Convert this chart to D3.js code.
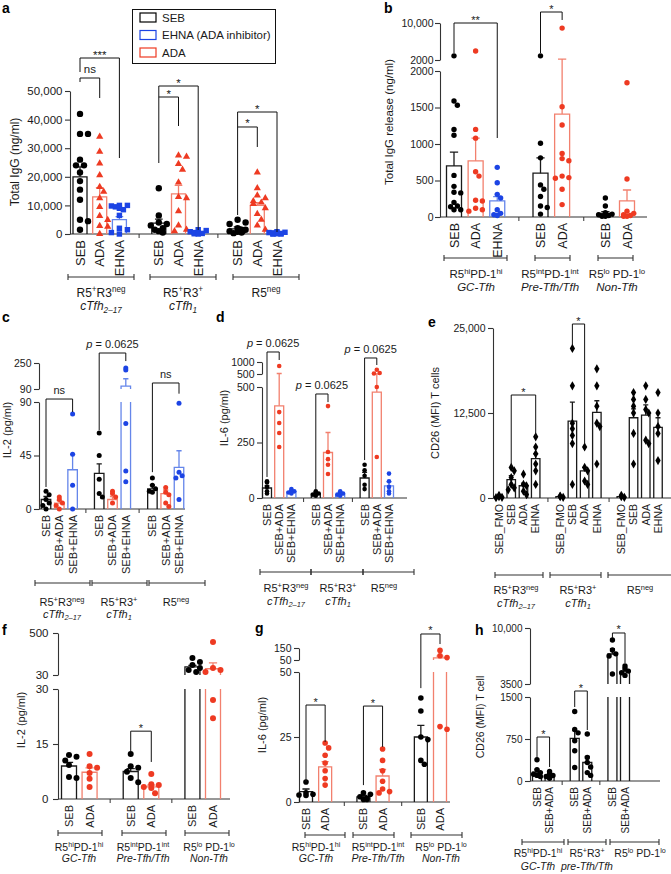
<!DOCTYPE html>
<html><head><meta charset="utf-8">
<script src="https://cdn.jsdelivr.net/npm/d3@7"></script>
<style>body{margin:0;background:#fff}svg{display:block}</style>
</head><body>
<script>
// ---------------- DATA ----------------
// Panel a
const aConds = [["SEB","ADA","EHNA"],["SEB","ADA","EHNA"],["SEB","ADA","EHNA"]];
const aGroups = [["R5^{+}R3^{neg}","cTfh_{2–17}"],["R5^{+}R3^{+}","cTfh_{1}"],["R5^{neg}",""]];
const aMeans = [[20000,13000,5000],[3800,14000,500],[1800,10000,300]];
const aSEM = [[3500,3200,1100],[1400,3000,250],[700,1000,80]];
const aPoints = [
  [[42000,35000,35000,26000,24000,24000,21500,18500,15500,12000,5000,4500,1500],
   [34000,28800,24700,20600,16500,14800,12500,9500,6300,4900,2800,2600,0],
   [10000,10000,9800,9500,9000,8500,6500,2000,1500,500,0]],
  [[16000,6500,4000,3500,3000,2000,1500,1000,500],
   [27500,27000,24500,22500,18000,13000,12500,8000,3000,1500,1000],
   [1500,1200,800,500,300,200,100,0]],
  [[5000,4000,3500,2000,1500,1500,1000,800,500,300],
   [21500,16000,13500,12500,11500,11000,10500,9000,7000,5000,3000,1500],
   [800,600,500,400,300,200,100,100,0,0]]
];
const aTicks = [0,10000,20000,30000,40000,50000];
const aTickLabels = ["0","10,000","20,000","30,000","40,000","50,000"];
const aBrackets = [[0,0,2,61538,56643,26573,"***"],[0,0,1,54545,53146,47552,"ns"],
  [1,0,2,51748,47902,1399,"*"],[1,0,1,47902,24825,37762,"*"],
  [2,0,2,42657,37413,699,"*"],[2,0,1,37413,6643,30420,"*"]];
const legendLabels = ["SEB","EHNA (ADA inhibitor)","ADA"];

// Panel b
const bConds = [["SEB","ADA","EHNA"],["SEB","ADA"],["SEB","ADA"]];
const bGroups = [["R5^{hi}PD-1^{hi}","GC-Tfh"],["R5^{int}PD-1^{int}","Pre-Tfh/Tfh"],["R5^{lo} PD-1^{lo}","Non-Tfh"]];
const bMeans = [[700,770,220],[600,1410],[50,220]];
const bSEM = [[190,310,60],[210,800],[25,150]];
const bPoints = [
  [[2900,1590,1530,1200,1120,570,420,340,330,200,150,140,100,100],
   [3950,1200,1080,620,560,230,220,120,100,80],
   [680,470,310,260,100,50,30,20]],
  [[2900,1010,810,440,380,280,150,130,40],
   [8900,1510,1260,870,800,770,560,540,530,380,170]],
  [[260,150,60,40,30,20,10,10],
   [1840,520,80,50,30,20,10,10]]
];
const bTicksLow = [0,500,1000,1500,2000], bTickLabelsLow = ["0","500","1000","1500","2000"];
const bTicksHigh = [2000,10000], bTickLabelsHigh = ["2000","10,000"];
const bBrackets = [[0,0,2,10000,3513,1082,"**"],[1,0,1,12378,3513,10649,"*"]];

// Panel c
const cConds = [["SEB","SEB+ADA","SEB+EHNA"],["SEB","SEB+ADA","SEB+EHNA"],["SEB","SEB+ADA","SEB+EHNA"]];
const cGroups = [["R5^{+}R3^{neg}","cTfh_{2–17}"],["R5^{+}R3^{+}","cTfh_{1}"],["R5^{neg}",""]];
const cMeans = [[8,5,33],[30,8,108],[17,13,35]];
const cSEM = [[2.5,2,13],[8,2.5,45],[3,3,14]];
const cPoints = [
  [[15,12,8,5,3,0],[10,8,5,3,0],[80,46,20,0]],
  [[64,45,25,13,10],[15,13,10,5],[219,207,72,32,23]],
  [[26,20,17,15,14],[18,14,12,5,2],[89,31,28,26,8]]
];
const cTicksLow = [0,45,90], cTickLabelsLow = ["0","45","90"];
const cTicksHigh = [90,250], cTickLabelsHigh = ["90","250"];
const cBrackets = [[0,0,2,[92.5,0],18.5,81.6,"ns"],[1,0,2,311.5,66.4,262,"p = 0.0625"],[2,0,2,127,31,[97,0],"ns"]];

// Panel d
const dConds = cConds;
const dGroups = cGroups;
const dMeans = [[45,415,28],[18,205,15],[90,477,55]];
const dSEM = [[10,105,4],[3,90,3],[25,28,18]];
const dPoints = [
  [[75,70,50,30,20],[833,387,338,293,230],[40,35,30,25,20]],
  [[30,25,20,15,10],[414,207,175,150,108],[30,25,20,15,10]],
  [[150,125,100,60,40],[680,540,520,500,185],[110,75,50,30,20]]
];
const dTicksLow = [0,250,500], dTickLabelsLow = ["0","250","500"];
const dTicksHigh = [500,1000], dTickLabelsHigh = ["500","1000"];
const dBrackets = [[0,0,1,1417,94.6,1083,"p = 0.0625"],[1,0,1,468.5,36,432,"p = 0.0625"],[2,0,1,1167,171,875,"p = 0.0625"]];

// Panel e
const eConds = [["SEB_FMO","SEB","ADA","EHNA"],["SEB_FMO","SEB","ADA","EHNA"],["SEB_FMO","SEB","ADA","EHNA"]];
const eGroups = cGroups;
const eMeans = [[200,2700,1800,5800],[200,11300,4000,12600],[200,11800,12200,10400]];
const eSEM = [[80,600,400,700],[50,2800,500,1700],[50,1300,1500,1400]];
const ePoints = [
  [[400,200,100,50],[4500,4000,3000,2000,1500,1200],[3500,2000,1800,1000,500],[9000,7500,6500,5000,4000,2000]],
  [[300,200,100],[22000,16500,11000,10200,9200,8000,2000],[7500,4500,4000,2500,2000],[19000,16500,13500,11000,10500,5000]],
  [[400,200,100],[15500,14500,13500,12500,9500,5000],[16500,14500,13000,12500,8500,8000],[15500,12500,10500,9500,5500]]
];
const eTicks = [0,12500,25000], eTickLabels = ["0","12,500","25,000"];
const eBrackets = [[0,1,3,15147,4559,8971,"*"],[1,1,2,25588,22500,7941,"*"]];

// Panel f
const fConds = [["SEB","ADA"],["SEB","ADA"],["SEB","ADA"]];
const fGroups = [["R5^{hi}PD-1^{hi}","GC-Tfh"],["R5^{int}PD-1^{int}","Pre-Tfh/Tfh"],["R5^{lo} PD-1^{lo}","Non-Tfh"]];
const fMeans = [[9,7.3],[7.5,3.3],[120,100]];
const fSEM = [[1,1.2],[0.8,0.5],[18,65]];
const fPoints = [
  [[12,11.5,10.5,9.3,6,5.7],[12.3,8.9,8.5,7.1,5.5,3.3]],
  [[12.3,8.9,8.5,7.4,5.7,4.6],[6.8,4,3.8,3.3,3,1.6]],
  [[220,175,142,108,86,64],[400,108,86,64,27,22]]
];
const fTicksLow = [0,15,30], fTickLabelsLow = ["0","15","30"];
const fTicksHigh = [30,500], fTickLabelsHigh = ["30","500"];
const fBrackets = [[1,0,1,18.5,12.8,10.1,"*"]];

// Panel g
const gConds = fConds;
const gGroups = fGroups;
const gMeans = [[4,13.5],[2,10],[25,68]];
const gSEM = [[1,2],[0.5,2.5],[4.5,15]];
const gPoints = [
  [[7.7,3.5,3,2.7,2.5],[22.7,20.8,18,15,12,9,6.5]],
  [[3.5,3,2,1.5,1,1],[20.4,16,12,8,5,4,3.5]],
  [[40,35,25,24,16,14.5],[130,85,70,29,28]]
];
const gTicksLow = [0,25,50], gTickLabelsLow = ["0","25","50"];
const gTicksHigh = [50,150], gTickLabelsHigh = ["50","150"];
const gBrackets = [[0,0,1,37.3,7.7,23.1,"*"],[1,0,1,36.9,6.5,21.2,"*"],[2,0,1,266.7,43.8,183,"*"]];

// Panel h
const hConds = [["SEB","SEB+ADA"],["SEB","SEB+ADA"],["SEB","SEB+ADA"]];
const hGroups = [["R5^{hi}PD-1^{hi}","GC-Tfh"],["R5^{+}R3^{+}","pre-Tfh/Tfh"],["R5^{lo} PD-1^{lo}",""]];
const hMeans = [[160,100],[760,330],[6980,4900]];
const hSEM = [[45,20],[140,110],[620,200]];
const hPoints = [
  [[380,200,150,120,100,80],[170,130,100,80,50]],
  [[1240,920,860,720,540,240],[840,420,330,250,150,100]],
  [[8600,7440,7000,6750,4660],[5600,5300,5000,4800,4500]]
];
const hTicksLow = [0,750,1500], hTickLabelsLow = ["0","750","1500"];
const hTicksHigh = [3500,10000], hTickLabelsHigh = ["3500","10,000"];
const hBrackets = [[0,0,1,785.7,410.7,250,"*"],[1,0,1,[1607,0],1321,910.7,"*"],[2,0,1,9420,8839,5937,"*"]];

// ---------------- STYLE ----------------
const FONT = "'Liberation Sans', Arial, Helvetica, sans-serif";
const AX = "#333", TXT = "#1a1a1a";
const PT = {black:"#000000", red:"#ee3a22", blue:"#1c44e4"};
const BAR = {black:"#1a1a1a", red:"#f2806e", blue:"#6586ea"};
function colorKey(cond){ if(cond.includes("EHNA")) return "blue"; if(cond.includes("ADA")) return "red"; return "black"; }

const svg = d3.select("body").append("svg").attr("width",671).attr("height",874)
  .attr("font-family",FONT).style("background","#fff");

function richText(g, str, x, y, fs, opts={}) {
  const t = g.append("text").attr("x",x).attr("y",y).attr("font-size",fs)
    .attr("text-anchor",opts.anchor||"middle").attr("fill",TXT);
  if (opts.italic) t.attr("font-style","italic");
  const re = /([\^_])\{([^}]*)\}/g; let last=0, m; const parts=[];
  while((m=re.exec(str))){ if(m.index>last) parts.push({t:str.slice(last,m.index),k:""}); parts.push({t:m[2],k:m[1]}); last=re.lastIndex; }
  if(last<str.length) parts.push({t:str.slice(last),k:""});
  let shift=0;
  parts.forEach(p=>{
    const target = p.k==="^" ? -0.38*fs : p.k==="_" ? 0.22*fs : 0;
    const ts = t.append("tspan").attr("dy",target-shift).text(p.t);
    if(p.k) ts.attr("font-size",fs*0.68);
    shift=target;
  });
  return t;
}

function swarm(vals, cx, Y, r, maxOff) {
  const pts = vals.map(v=>({v,y:Y(v)})).sort((a,b)=>a.y-b.y);
  const placed=[]; const step=r*1.25;
  for(const p of pts){
    let chosen=null;
    for(let k=0;k<24;k++){
      const off = k===0?0:(k%2?1:-1)*Math.ceil(k/2)*step;
      if(Math.abs(off)>maxOff) continue;
      if(placed.every(q=>Math.hypot(q.x-(cx+off),q.y-p.y)>=2*r*0.92)){chosen=off;break;}
    }
    if(chosen===null){ chosen = (placed.length%3-1)*step; }
    p.x=cx+chosen; placed.push(p);
  }
  return placed;
}

const symTypes = {circle:d3.symbolCircle, triangle:d3.symbolTriangle, square:d3.symbolSquare, diamond:d3.symbolDiamond};

function drawPanel(P) {
  const g = svg.append("g");
  const segs = P.segs;
  const sc = segs.map(s=>d3.scaleLinear().domain(s.dom).range(s.rng));
  const segOf = v => { for(let i=0;i<segs.length;i++){ if(v<=segs[i].dom[1] || i===segs.length-1){ if(i>0 && v<segs[i].dom[0]) return i-1; return i; } } return 0; };
  const Y = (v,s) => sc[s===undefined?segOf(v):s](v);
  const yv = d => Array.isArray(d) ? Y(d[0],d[1]) : Y(d);
  const y0 = sc[0](0);

  const slots=[];
  P.conds.forEach((cs,gi)=>{ cs.forEach(c=>slots.push(gi+"|"+c)); if(gi<P.conds.length-1) slots.push("gap"+gi); });
  const x = d3.scalePoint().domain(slots).range(P.xRange);
  const X = (gi,ci) => x(gi+"|"+P.conds[gi][ci]);

  // y axis segments
  segs.forEach((s,i)=>{
    const ax = d3.axisLeft(sc[i]).tickValues(s.ticks).tickFormat((d,j)=>s.labels[j])
      .tickSize(5).tickSizeOuter(0).tickPadding(P.tickPad===undefined?2.5:P.tickPad);
    const a = g.append("g").attr("transform",`translate(${P.axisX},0)`).call(ax);
    a.select(".domain").attr("stroke",AX).attr("stroke-width",1.1);
    a.selectAll(".tick line").attr("stroke",AX).attr("stroke-width",1.1);
    a.selectAll("text").attr("font-size",P.fs.tick).attr("font-family",FONT).attr("fill",TXT);
  });
  // x axis
  g.append("line").attr("x1",P.axisX).attr("x2",P.axisEnd).attr("y1",y0).attr("y2",y0).attr("stroke",AX).attr("stroke-width",1.1);
  slots.filter(s=>s.startsWith("gap")).forEach(s=>{
    g.append("line").attr("x1",x(s)).attr("x2",x(s)).attr("y1",y0).attr("y2",y0+4).attr("stroke",AX);
  });

  const bw = P.barW;
  P.conds.forEach((cs,gi)=>{
    cs.forEach((c,ci)=>{
      const cx = X(gi,ci);
      const key = P.mono ? "black" : colorKey(c);
      const m = P.means[gi][ci], se = P.sem[gi][ci];
      const x0 = cx-bw/2, x1 = cx+bw/2;
      const si = segOf(m);
      let p="";
      if(si===0){ p=`M${x0},${y0}V${Y(m,0)}H${x1}V${y0}`; }
      else {
        for(let k=0;k<si;k++){ const b=sc[k](k===0?0:segs[k].dom[0]); const t=sc[k](segs[k].dom[1]); p+=`M${x0},${b}V${t}M${x1},${b}V${t}`; }
        const b=sc[si](segs[si].dom[0]); p+=`M${x0},${b}V${Y(m)}H${x1}V${b}`;
      }
      g.append("path").attr("d",p).attr("fill","none").attr("stroke",BAR[key]).attr("stroke-width",1.3);
      // SEM
      const ym=Y(m), yt=Y(m+se), cw=Math.max(5,bw*0.55);
      g.append("path").attr("d",`M${cx},${ym}V${yt}M${cx-cw/2},${yt}H${cx+cw/2}`)
        .attr("fill","none").attr("stroke",BAR[key]).attr("stroke-width",1.3);
      // points
      const marker = P.markers ? P.markers[ci] : (P.marker||"circle");
      const pts = swarm(P.points[gi][ci], cx, Y, P.r, bw*0.62);
      const area = marker==="circle" ? Math.PI*P.r*P.r : marker==="diamond" ? P.r*P.r*4.2 : marker==="triangle" ? P.r*P.r*2.2 : P.r*P.r*2.9;
      pts.forEach(q=>{
        g.append("path").attr("transform",`translate(${q.x},${q.y})`)
          .attr("d",d3.symbol().type(symTypes[marker]).size(area)()).attr("fill",PT[key]);
      });
      // x label
      g.append("text").attr("transform",`translate(${cx},${y0+6}) rotate(-90)`)
        .attr("text-anchor","end").attr("dy","0.36em").attr("font-size",P.fs.xlab).attr("fill",TXT).text(c);
    });
  });

  // brackets
  P.brackets.forEach(b=>{
    const [gi,c1,c2,top,l,r,lab]=b;
    const xa=X(gi,c1), xb=X(gi,c2), yt=yv(top);
    g.append("path").attr("d",`M${xa},${yv(l)}V${yt}H${xb}V${yv(r)}`).attr("fill","none").attr("stroke","#111").attr("stroke-width",1);
    const star = /^\*+$/.test(lab);
    const t = g.append("text").attr("x",(xa+xb)/2).attr("y",star?yt+0.5:yt-5).attr("text-anchor","middle")
      .attr("font-size",P.fs.br).attr("fill",TXT);
    if(lab.startsWith("p =")){ t.append("tspan").attr("font-style","italic").text("p"); t.append("tspan").text(lab.slice(1)); }
    else t.text(lab);
  });

  // group lines and labels
  P.groupLines.forEach((gl,gi)=>{
    const yy=P.groupLineY;
    g.append("path").attr("d",`M${gl[0]},${yy-3}V${yy+3}M${gl[0]},${yy}H${gl[1]}M${gl[1]},${yy-3}V${yy+3}`)
      .attr("fill","none").attr("stroke",AX).attr("stroke-width",1.1);
    const lx = P.labelX[gi];
    richText(g, P.groups[gi][0], lx, P.labelY[0], P.fs.group);
    if(P.groups[gi][1]) richText(g, P.groups[gi][1], lx, P.labelY[1], P.fs.group, {italic:true});
  });

  // title
  g.append("text").attr("transform",`translate(${P.title[1]},${P.title[2]}) rotate(-90)`)
    .attr("text-anchor","middle").attr("dy","0.35em").attr("font-size",P.fs.title).attr("fill",TXT).text(P.title[0]);
  // letter
  g.append("text").attr("x",P.letter[1]).attr("y",P.letter[2]).attr("font-size",14).attr("font-weight","bold").attr("fill","#000").text(P.letter[0]);
  return g;
}

// ---------------- PANELS ----------------
drawPanel({letter:["a",2,13], conds:aConds, groups:aGroups, means:aMeans, sem:aSEM, points:aPoints, brackets:aBrackets,
  xRange:[80,277], axisX:70, axisEnd:287, barW:14, r:3.2, markers:["circle","triangle","square"],
  segs:[{dom:[0,50000], rng:[234,91], ticks:aTicks, labels:aTickLabels}],
  title:["Total IgG (ng/ml)",15,162], groupLineY:277, groupLines:[[68,134],[150,216],[233,299]], labelX:[101,183,266], labelY:[297,310],
  fs:{tick:11.5, xlab:13, group:12, title:12, br:11.5}});

// legend for a
const lg = svg.append("g");
lg.append("rect").attr("x",132.5).attr("y",9.5).attr("width",143).attr("height",54).attr("fill","#fff").attr("stroke","#111").attr("stroke-width",1);
const legendKeys = ["black","blue","red"];
legendLabels.forEach((t,i)=>{
  const yy = 13 + i*17.5;
  lg.append("rect").attr("x",140).attr("y",yy).attr("width",16).attr("height",9).attr("fill","none").attr("stroke",PT[legendKeys[i]]).attr("stroke-width",1.2);
  lg.append("text").attr("x",162).attr("y",yy+8.5).attr("font-size",11.5).attr("fill",TXT).text(t);
});

drawPanel({letter:["b",384,13], conds:bConds, groups:bGroups, means:bMeans, sem:bSEM, points:bPoints, brackets:bBrackets,
  xRange:[454,627], axisX:440, axisEnd:647, barW:15, r:2.7, tickPad:1.5,
  segs:[{dom:[0,2000], rng:[217,71], ticks:bTicksLow, labels:bTickLabelsLow},{dom:[2000,10000], rng:[60,23], ticks:bTicksHigh, labels:bTickLabelsHigh}],
  title:["Total IgG release (ng/ml)",389,122], groupLineY:258, groupLines:[[444,507],[535,570],[598,633]], labelX:[476,550,617], labelY:[278,291],
  fs:{tick:10.5, xlab:12.5, group:11.5, title:11.5, br:11}});

drawPanel({letter:["c",2,322], conds:cConds, groups:cGroups, means:cMeans, sem:cSEM, points:cPoints, brackets:cBrackets,
  xRange:[46,179], axisX:39, axisEnd:185, barW:9.5, r:2.5,
  segs:[{dom:[0,90], rng:[509,402], ticks:cTicksLow, labels:cTickLabelsLow},{dom:[90,250], rng:[389,363], ticks:cTicksHigh, labels:cTickLabelsHigh}],
  title:["IL-2 (pg/ml)",7,430], groupLineY:583, groupLines:[[35,90],[92,147],[149,205]], labelX:[62,119,176], labelY:[606,618],
  fs:{tick:10.5, xlab:11, group:11, title:11, br:11}});

drawPanel({letter:["d",216,322], conds:dConds, groups:dGroups, means:dMeans, sem:dSEM, points:dPoints, brackets:dBrackets,
  xRange:[267,389], axisX:262, axisEnd:407, barW:9, r:2.3,
  segs:[{dom:[0,500], rng:[498,387], ticks:dTicksLow, labels:dTickLabelsLow},{dom:[500,1000], rng:[374,362], ticks:dTicksHigh, labels:dTickLabelsHigh}],
  title:["IL-6 (pg/ml)",224,418], groupLineY:572, groupLines:[[260,311],[311,363],[363,414]], labelX:[286,338,384], labelY:[592,605],
  fs:{tick:10.5, xlab:11, group:11, title:11, br:11}});

drawPanel({letter:["e",428,327], conds:eConds, groups:eGroups, means:eMeans, sem:eSEM, points:ePoints, brackets:eBrackets, mono:true, marker:"diamond",
  xRange:[499,658], axisX:493, axisEnd:671, barW:8.5, r:2.4,
  segs:[{dom:[0,25000], rng:[498,328], ticks:eTicks, labels:eTickLabels}],
  title:["CD26 (MFI) T cells",435,413], groupLineY:575, groupLines:[[495,543],[550,601],[608,672]], labelX:[516,578,640], labelY:[594,607],
  fs:{tick:10.5, xlab:10.5, group:11, title:11, br:11}});

drawPanel({letter:["f",2,635], conds:fConds, groups:fGroups, means:fMeans, sem:fSEM, points:fPoints, brackets:fBrackets,
  xRange:[69,213], axisX:58, axisEnd:230, barW:15, r:3, tickPad:4.5,
  segs:[{dom:[0,30], rng:[799,689], ticks:fTicksLow, labels:fTickLabelsLow},{dom:[30,500], rng:[675,633], ticks:fTicksHigh, labels:fTickLabelsHigh}],
  title:["IL-2 (pg/ml)",21,720], groupLineY:833, groupLines:[[58,102],[122,166],[185,229]], labelX:[79,143,209], labelY:[851,862],
  fs:{tick:11.5, xlab:11, group:10.5, title:11, br:11}});

drawPanel({letter:["g",255,633], conds:gConds, groups:gGroups, means:gMeans, sem:gSEM, points:gPoints, brackets:gBrackets,
  xRange:[306,440], axisX:299, axisEnd:450, barW:13, r:2.8,
  segs:[{dom:[0,50], rng:[802,672], ticks:gTicksLow, labels:gTickLabelsLow},{dom:[50,150], rng:[660,648], ticks:gTicksHigh, labels:gTickLabelsHigh}],
  title:["IL-6 (pg/ml)",262,725], groupLineY:835, groupLines:[[305,345],[353,394],[411,462]], labelX:[316,378,441], labelY:[851,862],
  fs:{tick:10.5, xlab:11, group:10.5, title:11, br:11}});

drawPanel({letter:["h",475,635], conds:hConds, groups:hGroups, means:hMeans, sem:hSEM, points:hPoints, brackets:hBrackets, mono:true,
  xRange:[537,625], axisX:530, axisEnd:660, barW:9, r:2.7,
  segs:[{dom:[0,1500], rng:[781,697], ticks:hTicksLow, labels:hTickLabelsLow},{dom:[3500,10000], rng:[684,628], ticks:hTicksHigh, labels:hTickLabelsHigh}],
  title:["CD26 (MFI) T cell",480,717], groupLineY:842, groupLines:[[522,564],[568,606],[610,659]], labelX:[538,587,640], labelY:[857,870],
  fs:{tick:10, xlab:10, group:10.5, title:10.5, br:11}});
</script>
</body></html>
